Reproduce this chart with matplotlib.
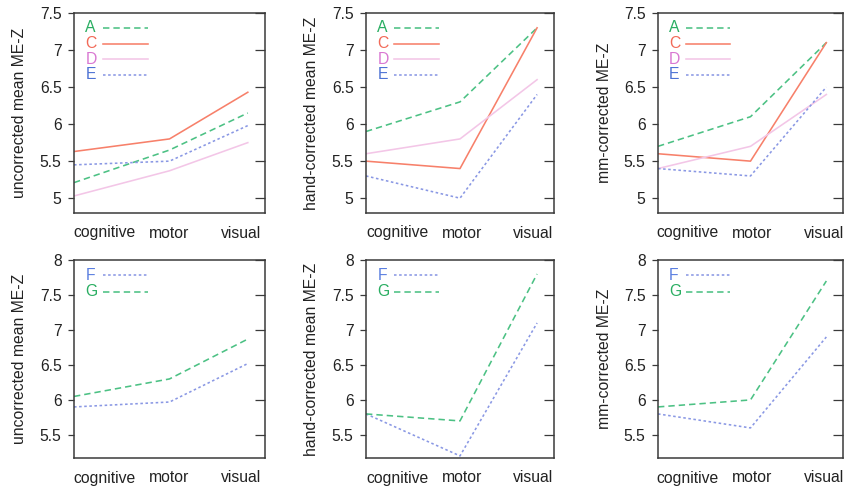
import matplotlib
matplotlib.use("Agg")
import matplotlib.pyplot as plt

plt.rcParams['font.family'] = ['Liberation Sans', 'DejaVu Sans']

categories = ["cognitive", "motor", "visual"]

# top row: groups A, C, D, E
top_names = ["A", "C", "D", "E"]
top_unc = {"A": [5.21, 5.65, 6.15], "C": [5.63, 5.80, 6.43],
           "D": [5.03, 5.37, 5.75], "E": [5.45, 5.50, 5.98]}
top_hand = {"A": [5.90, 6.30, 7.30], "C": [5.50, 5.40, 7.30],
            "D": [5.60, 5.80, 6.60], "E": [5.30, 5.00, 6.40]}
top_mm = {"A": [5.70, 6.10, 7.10], "C": [5.60, 5.50, 7.10],
          "D": [5.40, 5.70, 6.40], "E": [5.40, 5.30, 6.50]}

# bottom row: groups F, G
bot_names = ["F", "G"]
bot_unc = {"F": [5.90, 5.97, 6.52], "G": [6.05, 6.30, 6.87]}
bot_hand = {"F": [5.80, 5.20, 7.10], "G": [5.80, 5.70, 7.80]}
bot_mm = {"F": [5.80, 5.60, 6.90], "G": [5.90, 6.00, 7.70]}

ylabels = ["uncorrected mean ME-Z", "hand-corrected mean ME-Z", "mm-corrected ME-Z"]
top_yticks = [5, 5.5, 6, 6.5, 7, 7.5]
top_yticklabels = ["5", "5.5", "6", "6.5", "7", "7.5"]
bot_yticks = [5.5, 6, 6.5, 7, 7.5, 8]
bot_yticklabels = ["5.5", "6", "6.5", "7", "7.5", "8"]

styles = {
    "A": dict(color="#4cc184", ls=(0, (4, 2.5)), text="#2aae62"),
    "C": dict(color="#f7806a", ls="-", text="#f26a58"),
    "D": dict(color="#f3c6e7", ls="-", text="#d978d2"),
    "E": dict(color="#8a98e4", ls=(0, (1.6, 1.6)), text="#4d72d4"),
    "F": dict(color="#8a98e4", ls=(0, (1.6, 1.6)), text="#5a7ee0"),
    "G": dict(color="#4cc184", ls=(0, (4, 2.5)), text="#2aae62"),
}

W, H = 846, 488
fig = plt.figure(figsize=(W / 100, H / 100), dpi=100)

xpos = [0.0, 0.5, 0.91]
tick_pos = [[0.16, 0.50, 0.875], [0.17, 0.51, 0.89], [0.16, 0.51, 0.90]]
cols = [(74, 265), (366, 554), (658, 843)]
rows = [(13, 213), (260, 458)]
ylabel_x = [19, 312, 604]

frame = "#3a3a3a"
FS = 11.3
LW = 1.15

def make_ax(ci, ri):
    x0, x1 = cols[ci]
    y0, y1 = rows[ri]
    return fig.add_axes([x0 / W, 1 - y1 / H, (x1 - x0) / W, (y1 - y0) / H])

panels = [
    (0, top_names, [top_unc, top_hand, top_mm], (4.8, 7.5), top_yticks, top_yticklabels),
    (1, bot_names, [bot_unc, bot_hand, bot_mm], (5.17, 8.0), bot_yticks, bot_yticklabels),
]

for ri, names, datasets, ylim, yt, ytl in panels:
    for ci, data in enumerate(datasets):
        ax = make_ax(ci, ri)
        for n in names:
            s = styles[n]
            ax.plot(xpos, data[n], color=s["color"], ls=s["ls"], lw=LW)
        ax.set_xlim(0, 1)
        ax.set_ylim(*ylim)
        ax.set_xticks(tick_pos[ci])
        ax.set_xticklabels(categories, fontsize=FS, color="#222222")
        ax.tick_params(axis='x', length=0, pad=9)
        ax.set_yticks(yt)
        ax.set_yticklabels(ytl, fontsize=FS, color="#222222")
        ax.tick_params(axis='y', direction='out', length=4, width=0.9,
                       color=frame, pad=5)
        sec = ax.secondary_yaxis('right')
        sec.set_yticks(yt)
        sec.tick_params(direction='in', length=7, width=0.9, color=frame,
                        labelright=False)
        sec.spines['right'].set_visible(False)
        for sp in ax.spines.values():
            sp.set_color(frame)
            sp.set_linewidth(1.1)
        # ylabel
        y0, y1 = rows[ri]
        fig.text(ylabel_x[ci] / W, 1 - ((y0 + y1) / 2) / H, ylabels[ci],
                 rotation=90, ha='center', va='center', fontsize=FS,
                 color="#222222")
        # key
        for k, n in enumerate(names):
            s = styles[n]
            yk = 0.925 - k * 0.078 if ri == 0 else 0.924 - k * 0.084
            ax.text(0.06, yk, n, transform=ax.transAxes, color=s["text"],
                    fontsize=FS, ha='left', va='center')
            ax.plot([0.15, 0.39], [yk, yk], transform=ax.transAxes,
                    color=s["color"], ls=s["ls"], lw=LW)

fig.savefig("out.png", dpi=100)
